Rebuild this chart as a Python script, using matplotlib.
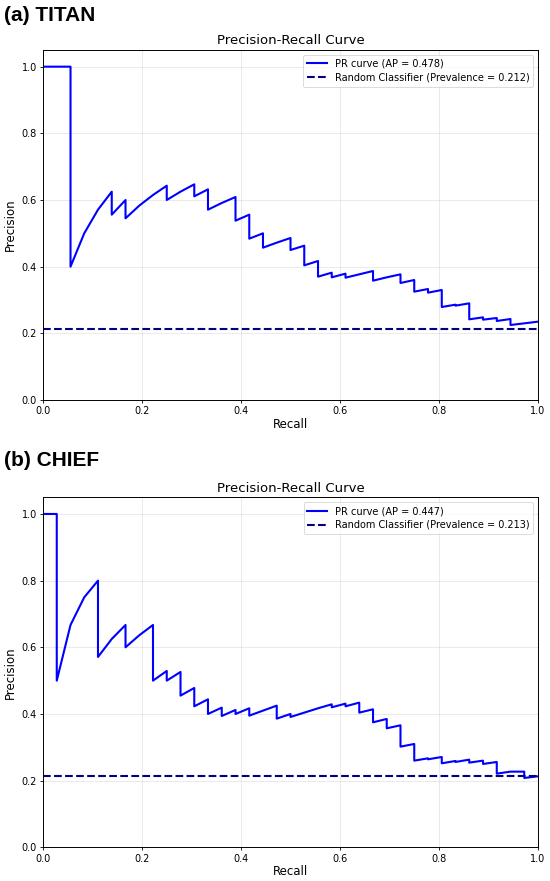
import matplotlib
matplotlib.use("Agg")
import matplotlib.pyplot as plt

# ---- data ----
titan_recall = [0.0, 0.0278, 0.0556, 0.0556, 0.0833, 0.1111, 0.1389, 0.1389, 0.1667, 0.1667,
                0.1944, 0.2222, 0.2500, 0.2500, 0.2778, 0.3056, 0.3056, 0.3333, 0.3333, 0.3611,
                0.3889, 0.3889, 0.4167, 0.4167, 0.4444, 0.4444, 0.4722, 0.5000, 0.5000, 0.5278,
                0.5278, 0.5556, 0.5556, 0.5833, 0.5833, 0.6111, 0.6111, 0.6389, 0.6667, 0.6667,
                0.6944, 0.7222, 0.7222, 0.7500, 0.7500, 0.7778, 0.7778, 0.8056, 0.8056, 0.8333,
                0.8333, 0.8611, 0.8611, 0.8889, 0.8889, 0.9167, 0.9167, 0.9444, 0.9444, 0.9722,
                1.0]
titan_precision = [1.0, 1.0, 1.0, 0.400, 0.500, 0.571, 0.625, 0.556, 0.600, 0.545,
                   0.583, 0.615, 0.643, 0.600, 0.625, 0.647, 0.611, 0.632, 0.571, 0.591,
                   0.609, 0.538, 0.556, 0.484, 0.500, 0.457, 0.472, 0.486, 0.450, 0.463,
                   0.404, 0.417, 0.370, 0.382, 0.368, 0.379, 0.367, 0.377, 0.387, 0.358,
                   0.368, 0.377, 0.351, 0.360, 0.325, 0.333, 0.322, 0.330, 0.279, 0.286,
                   0.283, 0.290, 0.242, 0.248, 0.241, 0.246, 0.237, 0.243, 0.225, 0.230,
                   0.235]
titan_ap = 0.478
titan_prevalence = 0.212

chief_recall = [0.0, 0.0278, 0.0278, 0.0556, 0.0833, 0.1111, 0.1111, 0.1389, 0.1667, 0.1667,
                0.1944, 0.2222, 0.2222, 0.2500, 0.2500, 0.2778, 0.2778, 0.3056, 0.3056, 0.3333,
                0.3333, 0.3611, 0.3611, 0.3889, 0.3889, 0.4167, 0.4167, 0.4444, 0.4722, 0.4722,
                0.5000, 0.5000, 0.5278, 0.5556, 0.5833, 0.5833, 0.6111, 0.6111, 0.6389, 0.6389,
                0.6667, 0.6667, 0.6944, 0.6944, 0.7222, 0.7222, 0.7500, 0.7500, 0.7778, 0.7778,
                0.8056, 0.8056, 0.8333, 0.8333, 0.8611, 0.8611, 0.8889, 0.8889, 0.9167, 0.9167,
                0.9444, 0.9722, 0.9722, 1.0]
chief_precision = [1.0, 1.0, 0.500, 0.667, 0.750, 0.800, 0.571, 0.625, 0.667, 0.600,
                   0.636, 0.667, 0.500, 0.529, 0.500, 0.526, 0.455, 0.478, 0.423, 0.444,
                   0.400, 0.419, 0.394, 0.412, 0.400, 0.417, 0.395, 0.410, 0.425, 0.386,
                   0.400, 0.391, 0.404, 0.417, 0.429, 0.420, 0.431, 0.423, 0.434, 0.404,
                   0.414, 0.375, 0.385, 0.357, 0.366, 0.302, 0.310, 0.260, 0.267, 0.264,
                   0.271, 0.252, 0.259, 0.256, 0.263, 0.254, 0.260, 0.250, 0.256, 0.221,
                   0.227, 0.227, 0.208, 0.213]
chief_ap = 0.447
chief_prevalence = 0.213

panel_labels = ["(a) TITAN", "(b) CHIEF"]
ticks = [0.0, 0.2, 0.4, 0.6, 0.8, 1.0]

W, H = 550, 881
fig = plt.figure(figsize=(W / 100, H / 100), dpi=100)

panels = [
    (titan_recall, titan_precision, titan_ap, titan_prevalence, panel_labels[0], 400.0, 6),
    (chief_recall, chief_precision, chief_ap, chief_prevalence, panel_labels[1], 847.3, 451),
]

for rec, prec, ap, prev, label, y0px, labely in panels:
    left, right = 43.0, 538.0
    top = y0px - 350.0
    ax = fig.add_axes([left / W, (H - y0px) / H, (right - left) / W, (y0px - top) / H])
    ax.plot(rec, prec, color="blue", lw=1.5, label=f"PR curve (AP = {ap:.3f})")
    ax.axhline(prev, color="navy", lw=1.5, ls="--",
               label=f"Random Classifier (Prevalence = {prev:.3f})")
    ax.set_xlim(0.0, 1.0)
    ax.set_ylim(0.0, 1.05)
    ax.set_xticks(ticks)
    ax.set_yticks(ticks)
    ax.tick_params(labelsize=7, length=2.5, width=0.6, pad=2)
    ax.set_xlabel("Recall", fontsize=8.5, labelpad=1)
    ax.set_ylabel("Precision", fontsize=8.5, labelpad=3)
    ax.set_title("Precision-Recall Curve", fontsize=9.5, pad=4)
    ax.grid(True, alpha=0.3, lw=0.6)
    for s in ax.spines.values():
        s.set_linewidth(0.7)
    leg = ax.legend(loc="upper right", fontsize=7, handlelength=2.0,
                    borderpad=0.4, labelspacing=0.4, framealpha=0.8)
    leg.get_frame().set_linewidth(0.6)
    fig.text(4 / W, 1 - labely / H, label, fontsize=15, fontweight="bold",
             family="Liberation Sans", va="top", ha="left")

fig.savefig("out.png", dpi=100)
